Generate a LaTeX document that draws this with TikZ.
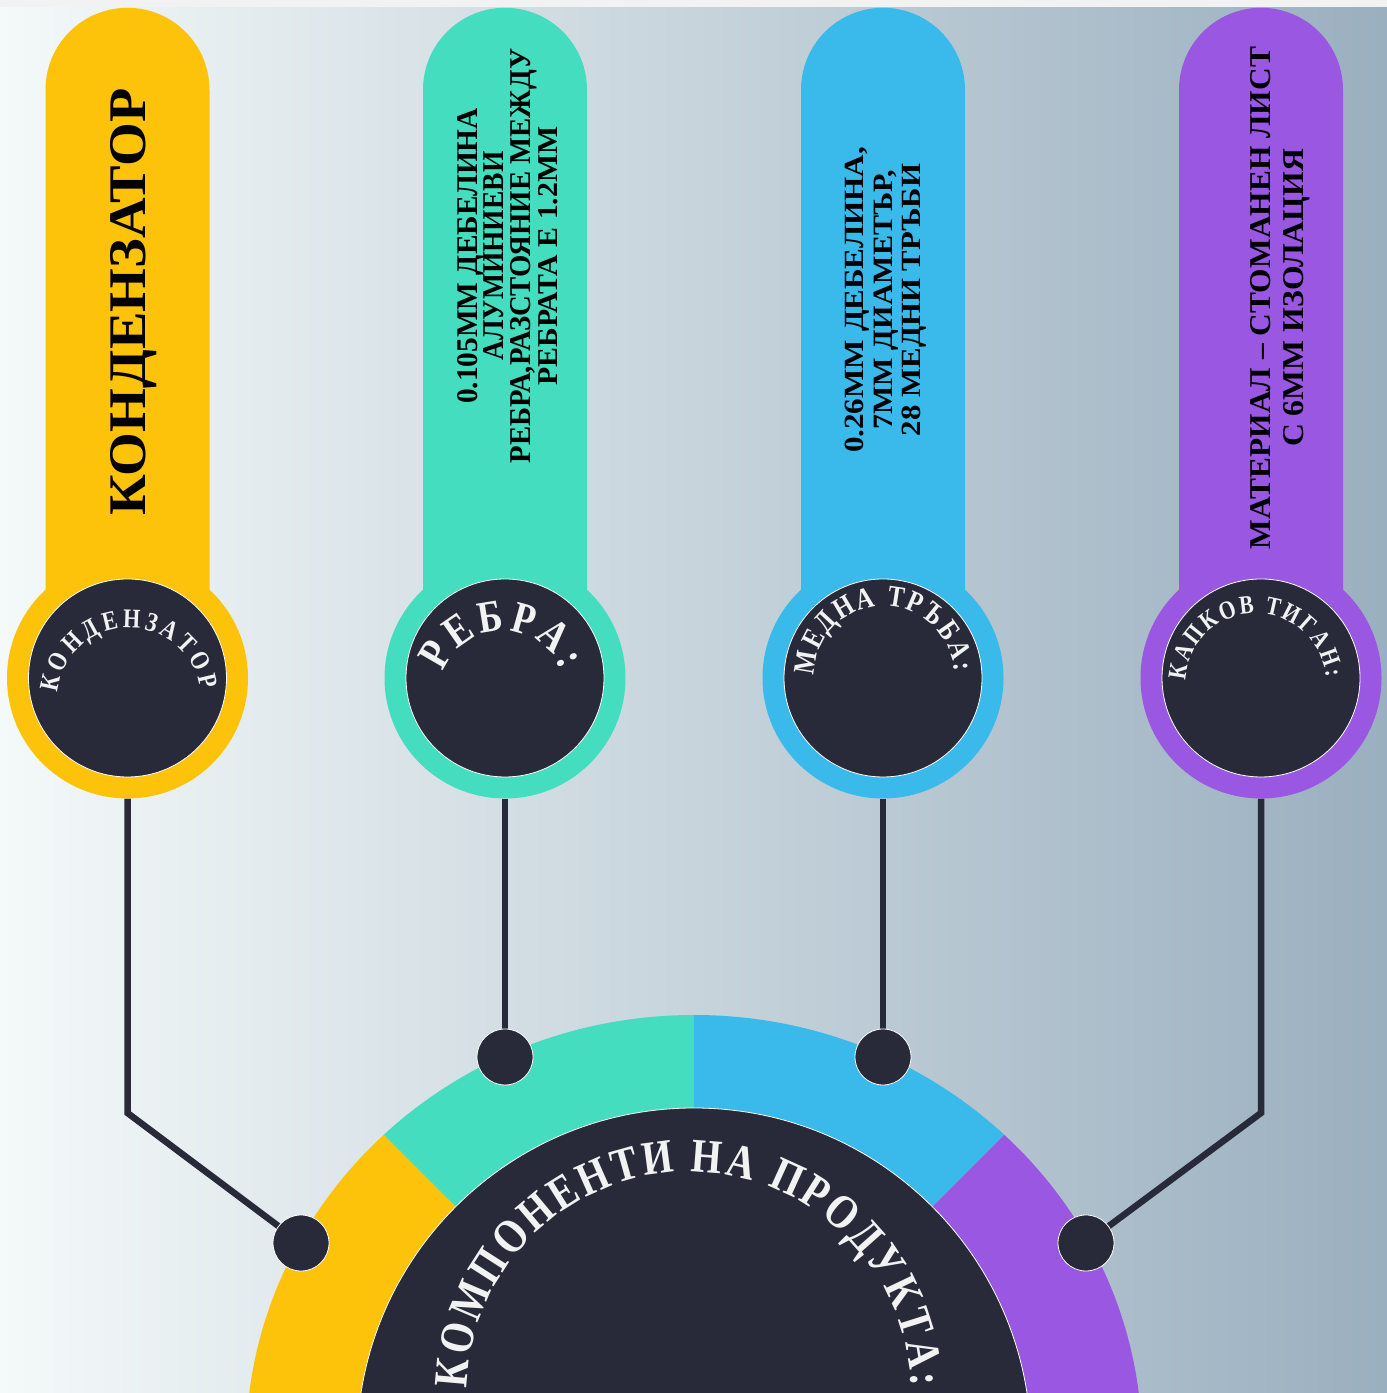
\documentclass[tikz,border=0pt]{standalone}
\usepackage{fontspec}
\setmainfont{Liberation Serif}
\newfontfamily\cfont{Liberation Serif}[FakeStretch=0.82]
\usetikzlibrary{decorations.text}
\definecolor{cyel}{HTML}{FCC30A}
\definecolor{cteal}{HTML}{45DDC0}
\definecolor{cblue}{HTML}{39BAEA}
\definecolor{cpurp}{HTML}{9A57E2}
\definecolor{cdark}{HTML}{282A3A}
\definecolor{ctxt}{HTML}{F2F2F2}
\definecolor{bgl}{HTML}{F4F9F9}
\definecolor{bgr}{HTML}{9AAFBF}
\definecolor{ctop}{HTML}{F2F2F2}
\pgfdeclarelayer{bg}
\pgfdeclarelayer{conn}
\pgfsetlayers{bg,conn,main}
% #1 centre, #2 radius, #3 start angle, #4 end angle, #5 font size, #6 text
\newcommand\arctext[6]{%
  \path[decorate,decoration={text along path,text color=ctxt,text align=fit to path,
    text={|\cfont\bfseries\fontsize{#5}{#5}\selectfont|#6}}]
    ([shift={(#3:#2)}]#1) arc[start angle=#3,end angle=#4,radius=#2];}
% #1 centre x, #2 colour, #3 name
\newcommand\pill[3]{%
  \fill[#2] (#1-82,715) -- (#1-82,1303.2) arc[start angle=180,end angle=0,radius=82] -- (#1+82,715) -- cycle;
  \node[outerc,fill=#2] (o#3) at (#1,715) {};
  \node[innerc] (i#3) at (#1,715) {};}
\begin{document}
\begin{tikzpicture}[x=1pt,y=1pt,
  conn/.style={draw=cdark,line width=6.5pt},
  outerc/.style={circle,inner sep=0pt,minimum size=241pt},
  innerc/.style={circle,inner sep=0pt,minimum size=198pt,fill=cdark,draw=white,line width=0.8pt},
  dotn/.style={circle,inner sep=0pt,minimum size=56pt,fill=cdark,draw=white,line width=0.8pt},
  ptext/.style={rotate=90,inner sep=0pt,align=center,text=black}]
\useasboundingbox (0,0) rectangle (1387,1393);
\clip (0,0) rectangle (1387,1393);
\begin{pgfonlayer}{bg}
  \shade[left color=bgl,right color=bgr] (0,0) rectangle (1387,1393);
  \fill[ctop] (0,1385.5) rectangle (1387,1393);
  \coordinate (rc) at (694,-52);
  \begin{scope}
    \clip (rc) ellipse[x radius=448,y radius=430];
    \fill[cyel]  (rc) -- +(180:800) -- +(157.5:900) -- +(135:800) -- cycle;
    \fill[cteal] (rc) -- +(135:800) -- +(112.5:900) -- +(90:800) -- cycle;
    \fill[cblue] (rc) -- +(90:800) -- +(67.5:900) -- +(45:800) -- cycle;
    \fill[cpurp] (rc) -- +(45:800) -- +(22.5:900) -- +(0:800) -- cycle;
  \end{scope}
  \node[circle,inner sep=0pt,minimum size=674pt,fill=cdark,draw=white,line width=0.8pt] (hub) at (rc) {};
\end{pgfonlayer}

\pill{127.5}{cyel}{1}
\pill{505}{cteal}{2}
\pill{883}{cblue}{3}
\pill{1261}{cpurp}{4}

\node[dotn] (d1) at (301,150) {};
\node[dotn] (d2) at (505,336) {};
\node[dotn] (d3) at (883,336) {};
\node[dotn] (d4) at (1086,150) {};
\coordinate (k1) at (127.5,280);
\coordinate (k4) at (1261,280);

\begin{pgfonlayer}{conn}
  \draw[conn] (o1.south) -- (k1) -- (d1.center);
  \draw[conn] (o2.south) -- (d2.center);
  \draw[conn] (o3.south) -- (d3.center);
  \draw[conn] (o4.south) -- (k4) -- (d4.center);
\end{pgfonlayer}

\node[ptext,anchor=base] (t1) at (145,1091) {\resizebox{427pt}{35pt}{\bfseries КОНДЕНЗАТОР}};
\node[ptext,anchor=north,font=\bfseries\fontsize{30}{26.7}\selectfont] (t2) at (457,1137)
  {\resizebox{296pt}{20pt}{0.105ММ ДЕБЕЛИНА}\\
   \resizebox{209pt}{20pt}{АЛУМИНИЕВИ}\\
   \resizebox{415pt}{20pt}{РЕБРА,РАЗСТОЯНИЕ МЕЖДУ}\\
   \resizebox{259pt}{19pt}{РЕБРАТА Е 1.2ММ}};
\node[ptext,anchor=north,font=\bfseries\fontsize{30}{28.5}\selectfont] (t3) at (845,1093)
  {\resizebox{306pt}{18.5pt}{0.26ММ ДЕБЕЛИНА,}\\
   \resizebox{259pt}{18.5pt}{7ММ ДИАМЕТЪР,}\\
   \resizebox{272pt}{18.5pt}{28 МЕДНИ ТРЪБИ}};
\node[ptext,anchor=north,font=\bfseries\fontsize{30}{33}\selectfont] (t4) at (1250,1095)
  {\resizebox{502pt}{20pt}{МАТЕРИАЛ – СТОМАНЕН ЛИСТ}\\
   \resizebox{298pt}{20pt}{С 6ММ ИЗОЛАЦИЯ}};

\arctext{129,693}{72}{174}{8}{27}{КОНДЕНЗАТОР}
\arctext{503,699}{63}{160}{22}{45}{РЕБРА:}
\arctext{884,717}{70}{180}{3.5}{30}{МЕДНА ТРЪБА:}
\arctext{1256,709}{70.5}{177}{5.5}{26}{КАПКОВ ТИГАН:}
\arctext{689,-1}{222}{178.5}{2}{48}{КОМПОНЕНТИ НА ПРОДУКТА:}
\end{tikzpicture}
\end{document}
